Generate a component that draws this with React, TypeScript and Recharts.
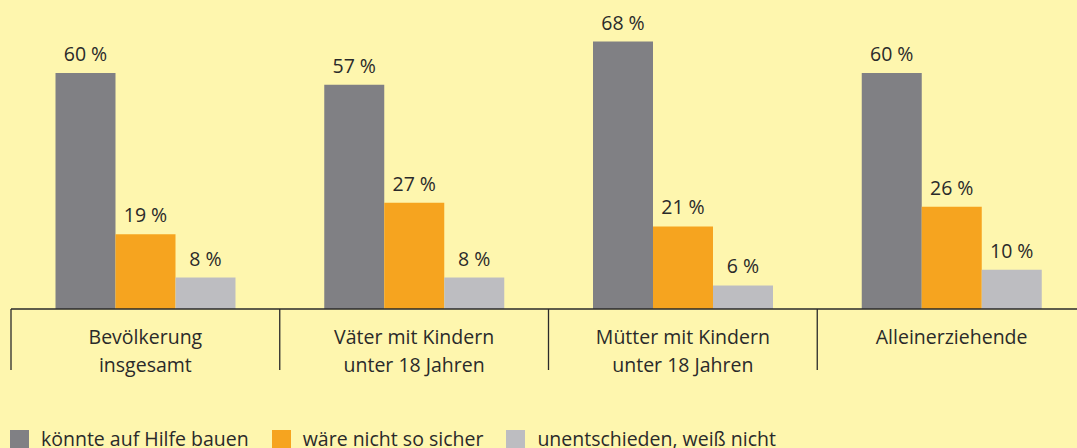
import React from 'react';
import { BarChart, Bar, XAxis, YAxis, Legend, LabelList } from 'recharts';

const categories = [
  'Bevölkerung\ninsgesamt',
  'Väter mit Kindern\nunter 18 Jahren',
  'Mütter mit Kindern\nunter 18 Jahren',
  'Alleinerziehende',
];
const koennteAufHilfeBauen = [60, 57, 68, 60];
const waereNichtSoSicher = [19, 27, 21, 26];
const unentschieden = [8, 8, 6, 10];
const seriesKeys = ['a', 'b', 'c'];
const seriesNames = ['könnte auf Hilfe bauen', 'wäre nicht so sicher', 'unentschieden, weiß nicht'];
const seriesColors = ['#808084', '#F6A41F', '#BDBDC1'];

const data = categories.map((category, i) => ({
  category,
  a: koennteAufHilfeBauen[i],
  b: waereNichtSoSicher[i],
  c: unentschieden[i],
}));

const FONT = '"Open Sans", sans-serif';
const TEXT = '#2a2a2a';
const BG = '#FEF6AE';
const FS = 19.5;

const CategoryTick = (props: any) => {
  const { x, y, payload } = props;
  const half = payload && payload.offset ? payload.offset : 134.375;
  const lines = String(payload.value).split('\n');
  return (
    <g>
      <line x1={x - half} x2={x - half} y1={y} y2={y + 61} stroke={TEXT} strokeWidth={1.3} />
      <text x={x} y={y} textAnchor="middle" fill={TEXT} fontFamily={FONT} fontSize={FS}>
        {lines.map((l, i) => (
          <tspan key={i} x={x} dy={i === 0 ? 35 : 28}>
            {l}
          </tspan>
        ))}
      </text>
    </g>
  );
};

const renderLegend = (props: any) => {
  const payload = (props.payload || []).slice().sort(
    (p: any, q: any) => seriesKeys.indexOf(p.dataKey) - seriesKeys.indexOf(q.dataKey)
  );
  return (
    <div style={{ display: 'flex', alignItems: 'flex-start', fontFamily: FONT, fontSize: FS, color: TEXT, height: 18 }}>
      {payload.map((entry: any, i: number) => (
        <div key={i} style={{ display: 'flex', alignItems: 'flex-start', marginRight: 23 }}>
          <span style={{ display: 'inline-block', width: 19, height: 19, background: entry.color, marginRight: 12 }} />
          <span style={{ lineHeight: '22px', marginTop: -2 }}>{entry.value}</span>
        </div>
      ))}
    </div>
  );
};

const fmt = (v: any) => `${v} %`;

export default function App() {
  return (
    <div style={{ position: 'absolute', left: 0, top: 0, width: 1077, height: 448, overflow: 'hidden', background: BG }}>
      <BarChart
        width={1100}
        height={448}
        data={data}
        margin={{ top: 14, right: 14, left: 11, bottom: 0 }}
        barCategoryGap={44.5}
        barGap={0}
      >
        <YAxis hide domain={[0, 75]} />
        <XAxis
          dataKey="category"
          interval={0}
          height={121}
          tickSize={0}
          tickMargin={0}
          tickLine={false}
          axisLine={{ stroke: TEXT, strokeWidth: 1.5 }}
          tick={<CategoryTick />}
        />
        <Legend
          verticalAlign="bottom"
          align="left"
          content={renderLegend}
          wrapperStyle={{ left: 10, height: 18 }}
        />
        {seriesKeys.map((k, i) => (
          <Bar key={k} dataKey={k} name={seriesNames[i]} fill={seriesColors[i]} isAnimationActive={false}>
            <LabelList dataKey={k} position="top" offset={12} formatter={fmt} fill={TEXT} fontFamily={FONT} fontSize={FS} />
          </Bar>
        ))}
      </BarChart>
    </div>
  );
}
